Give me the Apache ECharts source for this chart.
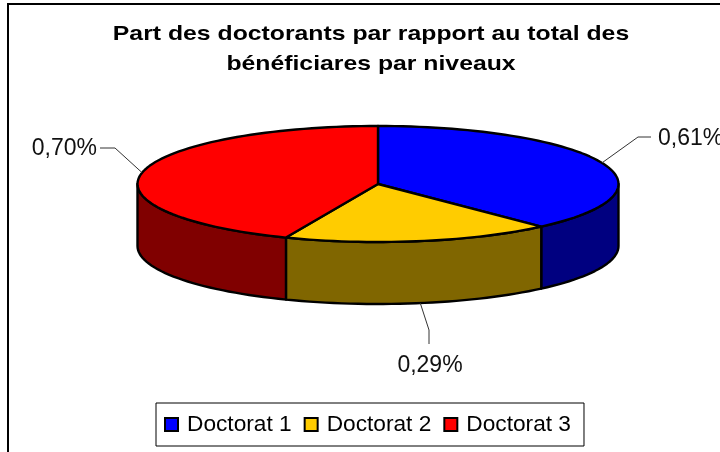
<!DOCTYPE html>
<html><head><meta charset="utf-8">
<script src="https://cdn.jsdelivr.net/npm/echarts@6/dist/echarts.min.js"></script>
<style>html,body{margin:0;padding:0;background:#fff}#c{width:720px;height:452px}</style>
</head><body><div id="c"></div>
<script>
const categories = ['Doctorat 1', 'Doctorat 2', 'Doctorat 3'];
const values = [0.61, 0.29, 0.70];
const topColors = ['#0000FF', '#FFCC00', '#FF0000'];
const wallColors = ['#000080', '#806600', '#800000'];
const titleText = 'Part des doctorants par rapport au total des\nbénéficiares par niveaux';

const FONT = '"Liberation Sans", Arial, sans-serif';
const P = { cx: 378, cy: 184, rx: 240.5, ry: 58, depth: 62 };
const leaders = [
  { kink: [638, 137], end: [651, 137], text: [658, 139], align: 'left' },
  { kink: [429, 330], end: [429, 344], text: [430, 366], align: 'center' },
  { kink: [115, 148], end: [100, 148], text: [97, 149], align: 'right' }
];
const total = values.reduce((a, b) => a + b, 0);
const pt = (t, dy) => [P.cx + P.rx * Math.sin(t), P.cy - P.ry * Math.cos(t) + (dy || 0)];
function arc(a0, a1, dy) {
  const n = Math.max(2, Math.ceil((a1 - a0) / (Math.PI / 90)));
  const out = [];
  for (let i = 0; i <= n; i++) out.push(pt(a0 + (a1 - a0) * i / n, dy));
  return out;
}
function renderSlice(idx) {
  return function () {
    const before = values.slice(0, idx).reduce((a, b) => a + b, 0);
    const a0 = before / total * 2 * Math.PI;
    const a1 = (before + values[idx]) / total * 2 * Math.PI;
    const mid = (a0 + a1) / 2;
    const children = [];
    const w0 = Math.max(a0, Math.PI / 2), w1 = Math.min(a1, 3 * Math.PI / 2);
    const line = { stroke: '#000', lineWidth: 2.4, lineJoin: 'round' };
    if (w1 > w0) {
      children.push({ type: 'polygon', z2: 1,
        shape: { points: arc(w0, w1, 0).concat(arc(w0, w1, P.depth).reverse()) },
        style: Object.assign({ fill: wallColors[idx] }, line) });
    }
    children.push({ type: 'polygon', z2: 2,
      shape: { points: [[P.cx, P.cy]].concat(arc(a0, a1, 0)) },
      style: Object.assign({ fill: topColors[idx] }, line) });
    const frontal = Math.cos(mid) < 0;
    const rim = pt(mid, frontal ? P.depth : 0);
    const L = leaders[idx];
    children.push({ type: 'polyline', z2: 3,
      shape: { points: [rim, L.kink, L.end] },
      style: { stroke: '#333', lineWidth: 1, fill: null } });
    children.push({ type: 'text', z2: 3,
      style: { text: values[idx].toFixed(2).replace('.', ',') + '%', x: L.text[0], y: L.text[1],
        font: '23px ' + FONT, fill: '#111', align: L.align, verticalAlign: 'middle' } });
    return { type: 'group', children };
  };
}
const chart = echarts.init(document.getElementById('c'), null, { renderer: 'canvas' });
chart.setOption({
  animation: false,
  backgroundColor: '#fff',
  legend: {
    data: categories, left: 156, top: 403, orient: 'horizontal',
    padding: [10, 13, 10, 8], itemGap: 12, itemWidth: 13, itemHeight: 13,
    icon: 'rect', borderColor: '#000', borderWidth: 1, backgroundColor: '#fff',
    selectedMode: false,
    itemStyle: { borderColor: '#000', borderWidth: 2 },
    textStyle: { fontFamily: FONT, fontSize: 22.7, color: '#000', padding: [0, 0, 2, 4] }
  },
  graphic: [
    { type: 'rect', silent: true, z: -1,
      shape: { x: 8, y: 4, width: 800, height: 600 },
      style: { fill: null, stroke: '#000', lineWidth: 2 } },
    { type: 'text', silent: true, x: 371, y: 18.5, scaleX: 1.18,
      style: { text: titleText, x: 0, y: 0, align: 'center', verticalAlign: 'top',
        font: 'bold 21px ' + FONT, lineHeight: 30.5, fill: '#000' } }
  ],
  series: categories.map((name, i) => ({
    type: 'custom', name, coordinateSystem: 'none', silent: true,
    itemStyle: { color: topColors[i] },
    renderItem: renderSlice(i), data: [[values[i]]]
  }))
});
</script></body></html>
